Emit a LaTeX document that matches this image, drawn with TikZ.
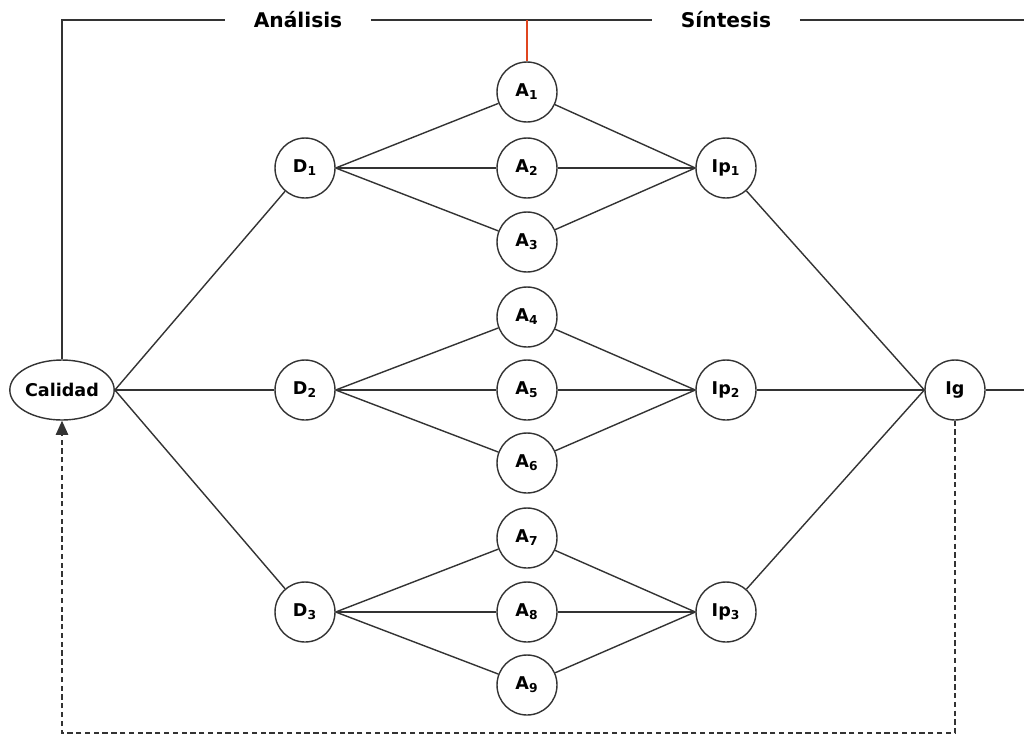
\documentclass[tikz,border=0pt]{standalone}
\usepackage{fontspec}
\setmainfont{DejaVu Sans}
\usetikzlibrary{shapes.geometric,arrows.meta}
\definecolor{linegray}{HTML}{333333}
\definecolor{topred}{HTML}{E0451F}
\begin{document}
\begin{tikzpicture}[x=0.02cm, y=-0.02cm, line width=0.8pt, draw=linegray]
\useasboundingbox (0,0) rectangle (1024,738);
\begin{scope}[every node/.style = {circle, draw=linegray, minimum size=1.2cm, inner sep=0pt, font=\bfseries\fontsize{10}{12}\selectfont}]
\node[ellipse, minimum width=2.06cm, minimum height=1.2cm] (cal) at (62, 390) {Calidad};
\node (d1) at (305, 168) {D\textsubscript{1}};
\node (d2) at (305, 390) {D\textsubscript{2}};
\node (d3) at (305, 612) {D\textsubscript{3}};
\node (a1) at (527, 92) {A\textsubscript{1}};
\node (a2) at (527, 168) {A\textsubscript{2}};
\node (a3) at (527, 242) {A\textsubscript{3}};
\node (a4) at (527, 317) {A\textsubscript{4}};
\node (a5) at (527, 390) {A\textsubscript{5}};
\node (a6) at (527, 463) {A\textsubscript{6}};
\node (a7) at (527, 538) {A\textsubscript{7}};
\node (a8) at (527, 612) {A\textsubscript{8}};
\node (a9) at (527, 685) {A\textsubscript{9}};
\node (ip1) at (726, 168) {Ip\textsubscript{1}};
\node (ip2) at (726, 390) {Ip\textsubscript{2}};
\node (ip3) at (726, 612) {Ip\textsubscript{3}};
\node (ig) at (955, 390) {Ig};
\end{scope}
\begin{scope}[every node/.style = {inner xsep=0.56cm, font=\bfseries\fontsize{11.5}{13}\selectfont}]
\node (ana) at (298, 20) {Análisis};
\node (sin) at (726, 20) {Síntesis};
\end{scope}
\coordinate (tl) at (62, 20);
\coordinate (tr) at (1024, 20);
\coordinate (tm) at (527, 20);
\coordinate (out) at (1024, 390);
\coordinate (fbr) at (955, 733);
\coordinate (fbl) at (62, 733);
\begin{scope}[every edge/.style = {draw=linegray, line width=0.8pt}]
\path (cal.east) edge (d1);
\path (cal.east) edge (d2);
\path (cal.east) edge (d3);
\path (d1.east) edge (a1);
\path (d1.east) edge (a2);
\path (d1.east) edge (a3);
\path (d2.east) edge (a4);
\path (d2.east) edge (a5);
\path (d2.east) edge (a6);
\path (d3.east) edge (a7);
\path (d3.east) edge (a8);
\path (d3.east) edge (a9);
\path (a1) edge (ip1.west);
\path (a2) edge (ip1.west);
\path (a3) edge (ip1.west);
\path (a4) edge (ip2.west);
\path (a5) edge (ip2.west);
\path (a6) edge (ip2.west);
\path (a7) edge (ip3.west);
\path (a8) edge (ip3.west);
\path (a9) edge (ip3.west);
\path (ip1) edge (ig.west);
\path (ip2) edge (ig.west);
\path (ip3) edge (ig.west);
\path (ig) edge (out);
\end{scope}
\draw[linegray] (cal.north) -- (tl) -- (ana);
\draw[linegray] (ana) -- (sin);
\draw[linegray] (sin) -- (tr);
\draw[topred, line width=1.2pt] (tm) -- (a1);
\draw[linegray, dash pattern=on 3pt off 2pt, -{Triangle[length=8pt, width=7pt]}] (ig.south) -- (fbr) -- (fbl) -- (cal.south);
\end{tikzpicture}
\end{document}
